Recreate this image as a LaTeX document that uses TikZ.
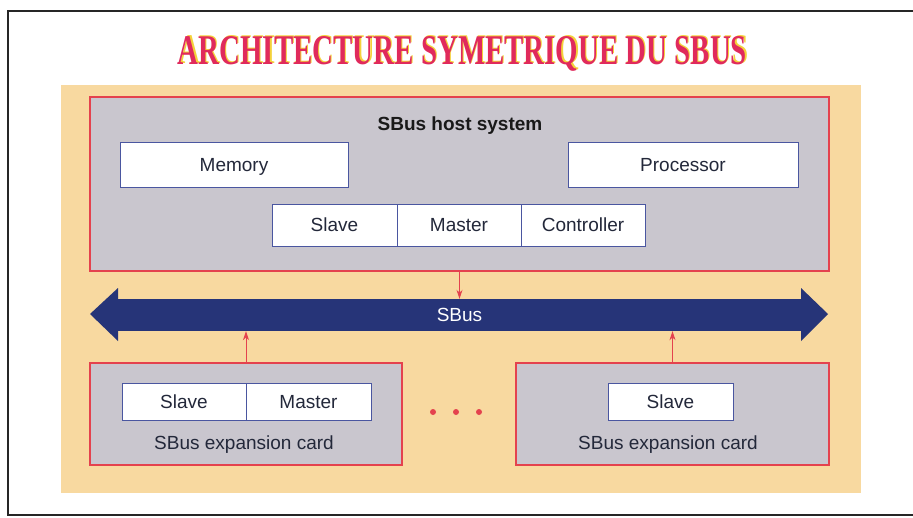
\documentclass[tikz,border=0pt]{standalone}
\usepackage{fontspec}
\setmainfont{Liberation Sans}
\newfontfamily\titlefont{Liberation Serif}
\usepackage{graphicx}
\usetikzlibrary{arrows.meta}
\definecolor{panel}{HTML}{F8D9A0}
\definecolor{greyfill}{HTML}{C9C6CE}
\definecolor{redline}{HTML}{E4424E}
\definecolor{blueline}{HTML}{4A56A0}
\definecolor{busblue}{HTML}{263478}
\definecolor{titlered}{HTML}{E02A5C}
\definecolor{titleyellow}{HTML}{F4D23A}
\definecolor{ink}{HTML}{23283A}
\begin{document}
\begin{tikzpicture}[x=1pt,y=-1pt,
  lbl/.style={font=\fontsize{19}{22}\selectfont, text=ink, text height=13.6pt, text depth=0pt},
  cell/.style={draw=blueline, line width=0.8pt, fill=white, inner sep=0pt, lbl},
  frame/.style={draw=redline, line width=1.5pt, fill=greyfill, inner sep=0pt},
  conn/.style={draw=redline, line width=1pt, -{Stealth[length=9pt,width=6pt]}},
  dot/.style={fill=redline}]
\useasboundingbox (0,0) rectangle (913,517);
\fill[white] (0,0) rectangle (913,517);
% outer black frame
\draw[line width=2pt, black!85] (930,11) -- (8,11) -- (8,515) -- (930,515);
% orange panel
\fill[panel] (61,85) rectangle (861,493);
% title
\node[anchor=base, inner sep=0pt, text=titleyellow] (titleshadow) at (463.6,63.2) {\resizebox{569pt}{28pt}{\titlefont\bfseries ARCHITECTURE SYMETRIQUE DU SBUS}};
\node[anchor=base, inner sep=0pt, text=titlered] (title) at (462.5,64) {\resizebox{569pt}{28pt}{\titlefont\bfseries ARCHITECTURE SYMETRIQUE DU SBUS}};
% host system
\node[frame, minimum width=739pt, minimum height=174pt] (host) at (459.5,184) {};
\node[lbl, font=\fontsize{19}{22}\selectfont\bfseries, text=black!90] (hostlbl) at (460,124) {SBus host system};
\node[cell, minimum width=228pt, minimum height=45pt] (mem) at (234,164.5) {Memory};
\node[cell, minimum width=230pt, minimum height=45pt] (proc) at (683,164.5) {Processor};
\node[cell, minimum width=125pt, minimum height=42pt] (hslave) at (334.5,225) {Slave};
\node[cell, minimum width=124pt, minimum height=42pt] (hmaster) at (459,225) {Master};
\node[cell, minimum width=124pt, minimum height=42pt] (hctrl) at (583,225) {Controller};
% bus
\fill[busblue] (118,288) -- (90,314) -- (118,341) -- cycle;
\fill[busblue] (801,288) -- (828,314) -- (801,341) -- cycle;
\node[fill=busblue, inner sep=0pt, minimum width=685pt, minimum height=32pt, font=\fontsize{19}{22}\selectfont, text=white, text height=13.6pt, text depth=0pt] (bus) at (459.5,315) {SBus};
% expansion cards
\node[frame, minimum width=312pt, minimum height=102pt] (card1) at (246,414) {};
\node[cell, minimum width=124pt, minimum height=37pt] (c1slave) at (184,401.5) {Slave};
\node[cell, minimum width=125pt, minimum height=37pt] (c1master) at (308.5,401.5) {Master};
\node[lbl] (c1lbl) at (244,443) {SBus expansion card};
\node[frame, minimum width=313pt, minimum height=102pt] (card2) at (672.5,414) {};
\node[cell, minimum width=125pt, minimum height=37pt] (c2slave) at (670.5,401.5) {Slave};
\node[lbl] (c2lbl) at (668,443) {SBus expansion card};
% dots
\fill[dot] (433,412) circle (3pt);
\fill[dot] (456,412) circle (3pt);
\fill[dot] (479,412) circle (3pt);
% connectors
\draw[conn] (host.south) -- (host.south |- bus.north);
\draw[conn] (card1.north) -- (card1.north |- bus.south);
\draw[conn] (card2.north) -- (card2.north |- bus.south);
\end{tikzpicture}
\end{document}
